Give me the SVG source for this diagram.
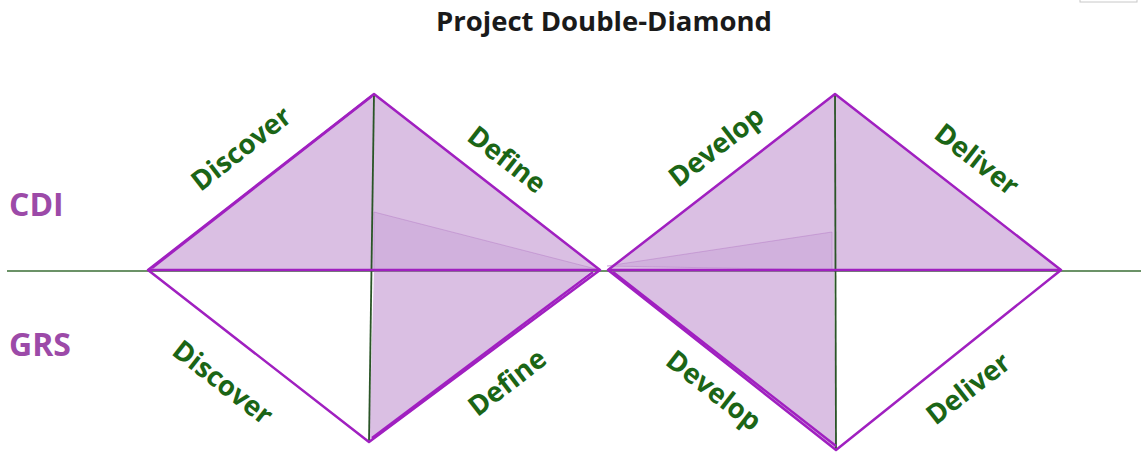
<svg xmlns="http://www.w3.org/2000/svg" width="1141" height="457" viewBox="0 0 1141 457">
<style>
.title{font-family:"Open Sans","Liberation Sans",sans-serif;font-weight:700;font-size:27.5px;fill:#1a1a1a}
.side{font-family:"Open Sans","Liberation Sans",sans-serif;font-weight:700;font-size:32px;fill:#9c4aa8}
.lbl{font-family:"Open Sans","Liberation Sans",sans-serif;font-weight:700;font-size:27.5px;fill:#1b6516}
.sh{fill:#a866bd;fill-opacity:0.42;stroke:none}
.dk{fill:#9b59b6;fill-opacity:0.14;stroke:#a866bd;stroke-opacity:0.35;stroke-width:1}
.edge{fill:none;stroke:#a020c0;stroke-width:2.5;stroke-linejoin:round}
.axis{stroke:#3a6e34;stroke-width:1.6}
.vert{stroke:#2a5527;stroke-width:1.8}
</style>
<rect x="1080" y="-2" width="57" height="4" fill="none" stroke="#c8c8c8" stroke-width="1"/>
<text class="title" x="604" y="31" text-anchor="middle">Project Double-Diamond</text>
<text class="side" x="9" y="216">CDI</text>
<text class="side" x="9" y="356">GRS</text>
<g id="axis">
<line class="axis" x1="7" y1="271" x2="1141" y2="271"/>
</g>
<g id="diamond-left">
<polygon class="sh" points="148,270 374,94 600,270"/>
<polygon class="dk" points="374,212 600,270 374,270"/>
<polygon class="sh" points="374,270 369,442 593,270"/>
<line class="vert" x1="374" y1="94" x2="369" y2="442"/>
<polygon class="edge" points="148,270 374,94 600,270 369,442"/>
<line class="edge" x1="148" y1="270" x2="600" y2="270"/>
<line class="edge" x1="152" y1="268" x2="372" y2="96" stroke-width="1.6"/>
<line class="edge" x1="372" y1="438" x2="593" y2="272" stroke-width="1.6"/>
</g>
<g id="diamond-right">
<polygon class="sh" points="608,270 835,94 1061,270"/>
<polygon class="dk" points="607,266 832,232 832,270"/>
<polygon class="sh" points="608,270 834,270 836,450"/>
<line class="vert" x1="835" y1="94" x2="836" y2="450"/>
<polygon class="edge" points="608,270 835,94 1061,270 836,450"/>
<line class="edge" x1="608" y1="270" x2="1061" y2="270"/>
<line class="edge" x1="613" y1="272" x2="836" y2="446" stroke-width="1.6"/>
</g>
<g id="labels">
<text class="lbl" text-anchor="middle" transform="translate(247,156) rotate(-37.9)">Discover</text>
<text class="lbl" text-anchor="middle" transform="translate(501,167) rotate(37.9)">Define</text>
<text class="lbl" text-anchor="middle" transform="translate(217,390) rotate(37.9)">Discover</text>
<text class="lbl" text-anchor="middle" transform="translate(513,390) rotate(-37.9)">Define</text>
<text class="lbl" text-anchor="middle" transform="translate(722,154) rotate(-37.9)">Develop</text>
<text class="lbl" text-anchor="middle" transform="translate(971,167) rotate(37.9)">Deliver</text>
<text class="lbl" text-anchor="middle" transform="translate(708,398) rotate(37.9)">Develop</text>
<text class="lbl" text-anchor="middle" transform="translate(974,396) rotate(-37.9)">Deliver</text>
</g>
</svg>
